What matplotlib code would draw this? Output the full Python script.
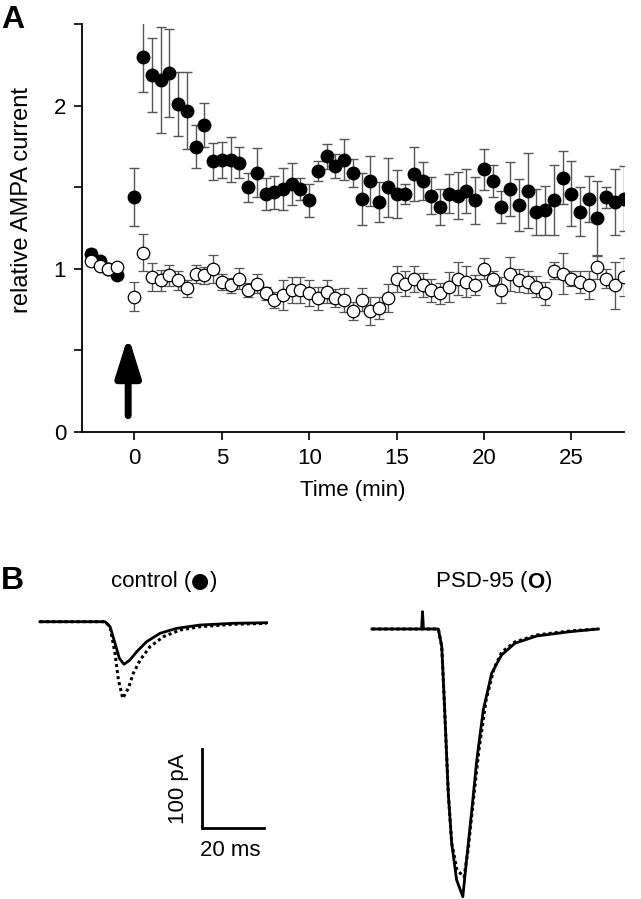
import matplotlib
matplotlib.use("Agg")
import matplotlib.pyplot as plt
from matplotlib.offsetbox import TextArea, HPacker, AnnotationBbox

plt.rcParams["font.family"] = ["Liberation Sans", "DejaVu Sans"]

# Panel A: relative AMPA current over time (min)
times = [-2.5, -2.0, -1.5, -1.0,
         0.0, 0.5, 1.0, 1.5, 2.0, 2.5, 3.0, 3.5, 4.0, 4.5, 5.0, 5.5, 6.0, 6.5,
         7.0, 7.5, 8.0, 8.5, 9.0, 9.5, 10.0, 10.5, 11.0, 11.5, 12.0, 12.5,
         13.0, 13.5, 14.0, 14.5, 15.0, 15.5, 16.0, 16.5, 17.0, 17.5, 18.0,
         18.5, 19.0, 19.5, 20.0, 20.5, 21.0, 21.5, 22.0, 22.5, 23.0, 23.5,
         24.0, 24.5, 25.0, 25.5, 26.0, 26.5, 27.0, 27.5, 28.0]

control_mean = [1.09, 1.05, 1.00, 0.96,
                1.44, 2.30, 2.19, 2.16, 2.20, 2.01, 1.97, 1.75, 1.88, 1.66,
                1.67, 1.67, 1.65, 1.50, 1.59, 1.46, 1.47, 1.49, 1.52, 1.49,
                1.42, 1.60, 1.69, 1.63, 1.67, 1.59, 1.43, 1.54, 1.41, 1.50,
                1.46, 1.46, 1.58, 1.54, 1.45, 1.38, 1.46, 1.45, 1.48, 1.42,
                1.61, 1.54, 1.38, 1.49, 1.39, 1.48, 1.35, 1.36, 1.42, 1.56,
                1.46, 1.35, 1.43, 1.31, 1.44, 1.41, 1.43]
control_sem = [0.03, 0.02, 0.02, 0.02,
               0.18, 0.215, 0.225, 0.325, 0.27, 0.195, 0.235, 0.13, 0.135,
               0.115, 0.11, 0.14, 0.095, 0.09, 0.15, 0.10, 0.10, 0.13, 0.13,
               0.07, 0.10, 0.06, 0.075, 0.075, 0.125, 0.085, 0.16, 0.155,
               0.125, 0.18, 0.145, 0.06, 0.165, 0.115, 0.115, 0.11, 0.12,
               0.145, 0.135, 0.145, 0.125, 0.10, 0.10, 0.165, 0.16, 0.23,
               0.14, 0.15, 0.215, 0.165, 0.20, 0.15, 0.14, 0.23, 0.065, 0.20,
               0.20]

psd95_mean = [1.05, 1.02, 1.00, 1.01,
              0.83, 1.10, 0.95, 0.93, 0.96, 0.93, 0.88, 0.97, 0.96, 1.00,
              0.92, 0.90, 0.94, 0.87, 0.91, 0.85, 0.81, 0.84, 0.87, 0.87,
              0.85, 0.82, 0.86, 0.82, 0.81, 0.74, 0.81, 0.74, 0.76, 0.82,
              0.94, 0.91, 0.94, 0.90, 0.87, 0.85, 0.89, 0.94, 0.92, 0.90,
              1.00, 0.94, 0.87, 0.97, 0.93, 0.92, 0.89, 0.85, 0.99, 0.97,
              0.94, 0.92, 0.90, 1.01, 0.94, 0.90, 0.95]
psd95_sem = [0.02, 0.02, 0.02, 0.02,
             0.09, 0.115, 0.085, 0.065, 0.065, 0.06, 0.05, 0.055, 0.05,
             0.085, 0.05, 0.045, 0.065, 0.045, 0.06, 0.04, 0.05, 0.09, 0.08,
             0.08, 0.08, 0.07, 0.07, 0.055, 0.075, 0.055, 0.07, 0.085, 0.07,
             0.085, 0.08, 0.075, 0.08, 0.075, 0.07, 0.065, 0.09, 0.10, 0.095,
             0.06, 0.065, 0.045, 0.08, 0.105, 0.07, 0.065, 0.065, 0.07,
             0.055, 0.125, 0.045, 0.065, 0.085, 0.075, 0.06, 0.145, 0.115]

# Panel B: example EPSC traces, time (ms) from trace start, current (pA) re baseline
ctrl_t = [0, 21.0, 22.6, 24.2, 25.6, 27.1, 29.0, 31.2, 34.4, 38.7, 44.1, 51.6, 62.4, 73.1]
ctrl_solid = [0, 0, -6.3, -27.3, -46.3, -53.9, -48.5, -38.0, -25.3, -14.7, -8.4, -4.2, -2.0, -1.3]
ctrl_dot_t = [0, 21.0, 22.6, 24.2, 25.3, 26.7, 28.5, 30.1, 32.3, 35.5, 39.8, 45.2, 51.6, 62.4, 73.1]
ctrl_dot = [0, 0, -6.3, -40.0, -73.8, -97.0, -84.3, -65.3, -48.5, -31.6, -19.0, -10.5, -6.3, -3.3, -2.0]

psd_t = [0, 16.0, 16.3, 16.6, 21.4, 22.5, 23.2, 23.9, 24.6, 25.7, 27.3, 29.3, 30.5,
         32.2, 33.8, 35.9, 38.6, 41.8, 46.1, 53.1, 63.9, 73.0]
psd_solid = [0, 0, 21.9, 0, 0, -22.4, -81.0, -144.3, -207.6, -270.9, -317.7, -338.9,
             -292.4, -229.1, -165.8, -102.5, -56.1, -32.9, -18.1, -8.9, -3.4, 0]
psd_dot_t = [0, 21.4, 22.5, 23.2, 23.9, 24.6, 25.7, 27.4, 29.7, 31.0, 32.7, 34.5,
             36.8, 39.4, 41.9, 46.1, 53.2, 63.9, 72.9]
psd_dot = [0, 0, -22.4, -81.0, -144.3, -207.6, -270.9, -305.0, -313.9, -279.7,
           -216.5, -153.2, -89.9, -49.4, -29.1, -16.5, -7.6, -2.5, 0]

fig = plt.figure(figsize=(6.41, 8.99), dpi=100)

# ---- panel A
ax = fig.add_axes([0.128, 0.5195, 0.845, 0.4535])
ax.errorbar(times, control_mean, yerr=control_sem, fmt="o", color="black",
            ms=9, mfc="black", mec="black", ecolor="#555555", elinewidth=1,
            capsize=3.5, capthick=1, zorder=2)
ax.errorbar(times, psd95_mean, yerr=psd95_sem, fmt="o", color="black",
            ms=9, mfc="white", mec="black", mew=0.9, ecolor="#555555",
            elinewidth=1, capsize=3.5, capthick=1, zorder=3)
ax.annotate("", xy=(-0.36, 0.59), xytext=(-0.36, 0.10),
            arrowprops=dict(arrowstyle="-|>,head_width=0.75,head_length=2.4",
                            color="black", lw=5, shrinkA=0, shrinkB=0))
ax.set_xlim(-3, 28)
ax.set_ylim(0, 2.5)
ax.set_xticks([0, 5, 10, 15, 20, 25])
ax.set_yticks([0, 0.5, 1, 1.5, 2, 2.5])
ax.set_yticklabels(["0", "", "1", "", "2", ""])
ax.tick_params(direction="out", length=6, width=1.2, labelsize=16, pad=5.5)
for s in ["top", "right"]:
    ax.spines[s].set_visible(False)
for s in ["left", "bottom"]:
    ax.spines[s].set_linewidth(1.3)
ax.set_xlabel("Time (min)", fontsize=16, va="top")
ax.xaxis.set_label_coords(0.5, -0.118)
ax.set_ylabel("relative AMPA current", fontsize=17)
ax.yaxis.set_label_coords(-0.091, 0.569)

# ---- panel B
bx = fig.add_axes([0, 0, 1, 339 / 899])
bx.set_xlim(0, 641 / 3.1)
bx.set_ylim(0, 339 / 0.79)
bx.axis("off")

cx, cy = 12.9, 351.0
bx.plot([cx + t for t in ctrl_dot_t], [cy + v for v in ctrl_dot], color="black",
        lw=2.2, ls=(0, (1, 1)))
bx.plot([cx + t for t in ctrl_t], [cy + v for v in ctrl_solid], color="black", lw=2)

px, py = 120.0, 341.8
bx.plot([px + t for t in psd_dot_t], [py + v for v in psd_dot], color="black",
        lw=2.2, ls=(0, (1, 1)))
bx.plot([px + t for t in psd_t], [py + v for v in psd_solid], color="black", lw=2)

# scale bar: 20 ms, 100 pA
sx, sy = 65.2, 89.9
bx.plot([sx, sx, sx + 20], [sy + 100, sy, sy], color="black", lw=2, solid_joinstyle="miter")
bx.text(sx - 7.5, sy + 50, "100 pA", rotation=90, ha="center", va="center", fontsize=16)
bx.text(sx + 9, sy - 29, "20 ms", ha="center", va="center", fontsize=16)


def label_with_symbol(x, y, before, symbol, after, symprops):
    parts = [TextArea(before, textprops=dict(fontsize=16)),
             TextArea(symbol, textprops=symprops),
             TextArea(after, textprops=dict(fontsize=16))]
    box = HPacker(children=parts, align="baseline", pad=0, sep=0)
    ab = AnnotationBbox(box, (x, y), xycoords="figure fraction", frameon=False,
                        box_alignment=(0.5, 0.5), pad=0)
    fig.add_artist(ab)


label_with_symbol(164 / 641, 1 - 582 / 899, "control (", "●", ")",
                  dict(fontsize=15, family="DejaVu Sans"))
label_with_symbol(494 / 641, 1 - 582 / 899, "PSD-95 (", "O", ")",
                  dict(fontsize=16, fontweight="bold"))

fig.text(1 / 641, 1 - 20 / 899, "A", fontsize=23, fontweight="bold", ha="left", va="center")
fig.text(1 / 641, 1 - 581 / 899, "B", fontsize=23, fontweight="bold", ha="left", va="center")

fig.savefig("out.png", dpi=100)
